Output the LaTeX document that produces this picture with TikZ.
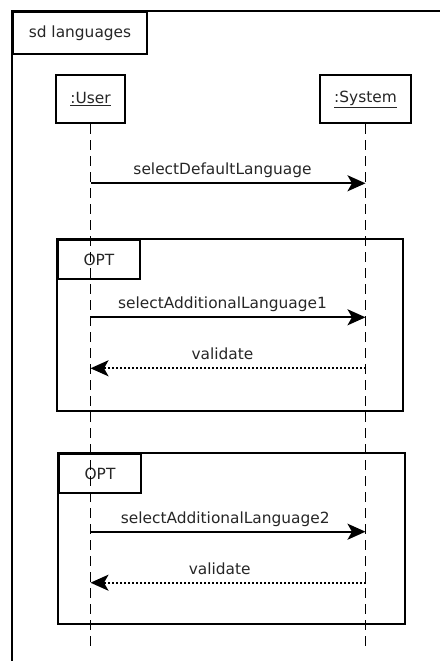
\documentclass[tikz,border=0pt]{standalone}
\usepackage{fontspec}
\setmainfont{DejaVu Sans}
\usetikzlibrary{calc,positioning,arrows.meta}

\begin{document}
\begin{tikzpicture}[x=1pt,y=-1pt,node distance=1cm,
    >={Stealth[length=18pt,width=16pt,inset=4.5pt]},
    every node/.style={font=\fontsize{15.4}{18}\selectfont,text=black!85},
    box/.style={draw,line width=2pt,inner sep=0pt},
    lifeline/.style={line width=1.2pt,dash pattern=on 10pt off 6pt},
    msg/.style={line width=2pt,->},
    reply/.style={line width=2pt,->,dash pattern=on 2pt off 2pt},
    lbl/.style={anchor=base,yshift=8.5pt}]
  \useasboundingbox (0,0) rectangle (440,661);

  \draw[line width=2pt] (12,661) -- (12,11) -- (440,11);
  \node[box,anchor=north west,minimum width=134pt,minimum height=42pt] (sd) at (12,11) {sd languages};

  \node[box,minimum width=69pt,minimum height=48pt] (user) at (90.5,99) {\underline{:User}};
  \node[box,minimum width=91pt,minimum height=48pt,right of=user,node distance=275pt] (system) {\underline{:System}};
  \coordinate[below of=user,node distance=549pt] (user_g);
  \coordinate[below of=system,node distance=549pt] (system_g);

  %%%%

  \draw[line width=2pt] (57,239) rectangle (403,411);
  \node[box,anchor=north west,minimum width=82pt,minimum height=39pt] (opt1) at (57,239) {OPT};

  \draw[line width=2pt] (58,453) rectangle (405,624);
  \node[box,anchor=north west,minimum width=82pt,minimum height=39pt] (opt2) at (58,453) {OPT};

  \draw[lifeline] (user) -- (user_g);
  \draw[lifeline] (system) -- (system_g);

  %%%%

  \coordinate (m1) at (0,183.3);
  \coordinate (m2) at (0,317.3);
  \coordinate (r2) at (0,368.3);
  \coordinate (m3) at (0,531.7);
  \coordinate (r3) at (0,582.7);

  \draw[msg] (user |- m1) -- node[lbl,pos=0.48]{selectDefaultLanguage} (system |- m1);
  \draw[msg] (user |- m2) -- node[lbl,pos=0.48]{selectAdditionalLanguage1} (system |- m2);
  \draw[reply] (system |- r2) -- node[lbl,pos=0.52]{validate} (user |- r2);
  \draw[msg] (user |- m3) -- node[lbl,pos=0.49]{selectAdditionalLanguage2} (system |- m3);
  \draw[reply] (system |- r3) -- node[lbl,pos=0.53]{validate} (user |- r3);

\end{tikzpicture}
\end{document}
